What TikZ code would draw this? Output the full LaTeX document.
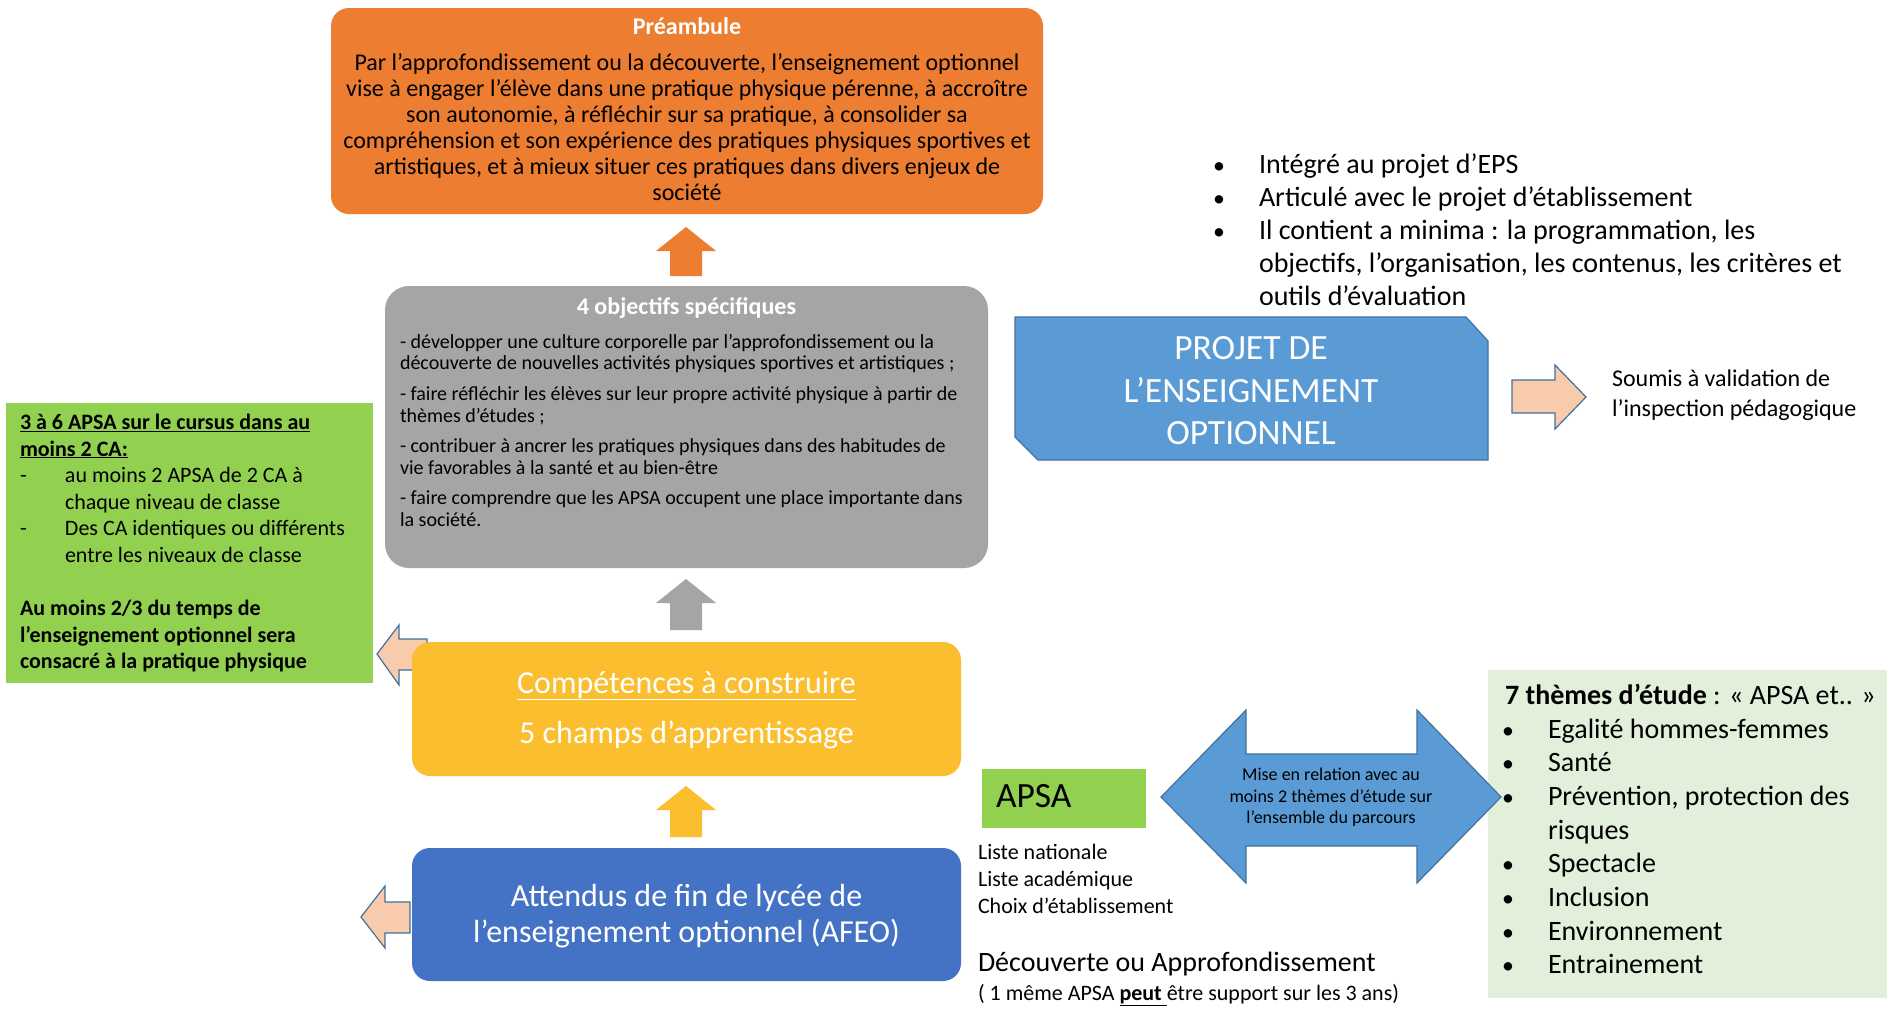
\documentclass[tikz,border=0pt]{standalone}
\usepackage{fontspec}
\setmainfont{Carlito}
\definecolor{orng}{HTML}{ED7D31}
\definecolor{gry}{HTML}{A5A5A5}
\definecolor{ylw}{HTML}{FBBE2E}
\definecolor{bluedk}{HTML}{4472C4}
\definecolor{bluelt}{HTML}{5B9BD5}
\definecolor{blueln}{HTML}{41719C}
\definecolor{grn}{HTML}{92D050}
\definecolor{grnlt}{HTML}{E2EFDA}
\definecolor{peach}{HTML}{F8CBAD}
\newcommand\fsz[2]{\fontsize{#1}{#2}\selectfont}
\newcommand\bul{\makebox[40pt][l]{\kern-6pt\scalebox{0.85}{•}}}
\begin{document}
\begin{tikzpicture}[x=1pt,y=-1pt,
  every node/.style={inner sep=0pt, outer sep=0pt},
  rbox/.style={rectangle, rounded corners=18pt, draw=none},
  sbox/.style={rectangle, draw=none},
  peacharrow/.style={fill=peach, draw=blueln, line width=1.2pt, line join=miter},
  bluearrow/.style={fill=bluelt, draw=blueln, line width=1.2pt}]
\useasboundingbox[fill=white] (0,0) rectangle (1900,1018);

% ---------- Préambule ----------
\node[rbox, fill=orng, minimum width=712, minimum height=206] (pre) at (687,111) {};
\node[anchor=north, font=\fsz{24}{26}\bfseries, text=white] (pretitle) at (687,17.5) {Préambule};
\node[anchor=north, align=center, font=\fsz{24}{26}] (pretext) at (687,53.5)
 {Par l’approfondissement ou la découverte, l’enseignement optionnel\\
  vise à engager l’élève dans une pratique physique pérenne, à accroître\\
  son autonomie, à réfléchir sur sa pratique, à consolider sa\\
  compréhension et son expérience des pratiques physiques sportives et\\
  artistiques, et à mieux situer ces pratiques dans divers enjeux de\\
  société};

% ---------- 4 objectifs ----------
\node[rbox, rounded corners=24pt, fill=gry, minimum width=603, minimum height=282] (obj) at (686.5,427) {};
\node[anchor=north, font=\fsz{24}{26}\bfseries, text=white] (objtitle) at (686.5,297.5) {4 objectifs spécifiques};
\node[anchor=north west, align=left, font=\fsz{20}{21.8}] (objtext) at (400,334)
 {- développer une culture corporelle par l’approfondissement ou la\\
  découverte de nouvelles activités physiques sportives et artistiques ;\\[8.5pt]
  - faire réfléchir les élèves sur leur propre activité physique à partir de\\
  thèmes d’études ;\\[8.5pt]
  - contribuer à ancrer les pratiques physiques dans des habitudes de\\
  vie favorables à la santé et au bien-être\\[8.5pt]
  - faire comprendre que les APSA occupent une place importante dans\\
  la société.};

% ---------- up arrows ----------
\fill[orng] (670,276) -- (670,251) -- (656,251) -- (686,227) -- (716,251) -- (702,251) -- (702,276) -- cycle;
\fill[gry]  (670,630) -- (670,603) -- (656,603) -- (686,579) -- (716,603) -- (702,603) -- (702,630) -- cycle;
\fill[ylw]  (670,837) -- (670,810) -- (656,810) -- (686,786) -- (716,810) -- (702,810) -- (702,837) -- cycle;

% ---------- left peach arrows ----------
\draw[peacharrow] (427,639) -- (399,639) -- (399,625) -- (377,654) -- (399,685) -- (399,670) -- (427,670) -- cycle;
\draw[peacharrow] (410,902) -- (385,902) -- (385,886) -- (361,917) -- (385,948) -- (385,933) -- (410,933) -- cycle;

% ---------- Compétences ----------
\node[rbox, fill=ylw, minimum width=549, minimum height=134] (comp) at (686.5,709) {};
\node[anchor=north, align=center, font=\fsz{32}{50}, text=white] (comptext) at (686.5,671)
 {\underline{Compétences à construire}\\ 5 champs d’apprentissage};

% ---------- AFEO ----------
\node[rbox, fill=bluedk, minimum width=549, minimum height=133] (afeo) at (686.5,914.5) {};
\node[anchor=north, align=center, font=\fsz{32}{36}, text=white] (afeotext) at (686.5,884)
 {Attendus de fin de lycée de\\ l’enseignement optionnel (AFEO)};

% ---------- green left ----------
\node[sbox, fill=grn, minimum width=367, minimum height=280, anchor=north west] (cursus) at (6,403) {};
\node[anchor=north west, align=left, font=\fsz{22}{26.6}] (cursustext) at (20,414)
 {\underline{\textbf{3 à 6 APSA sur le cursus dans au}}\\
  \underline{\textbf{moins 2 CA:}}\\
  \makebox[45pt][l]{-}au moins 2 APSA de 2 CA à\\
  \hspace*{45pt}chaque niveau de classe\\
  \makebox[45pt][l]{-}Des CA identiques ou différents\\
  \hspace*{45pt}entre les niveaux de classe\\[26.6pt]
  \textbf{Au moins 2/3 du temps de}\\
  \textbf{l’enseignement optionnel sera}\\
  \textbf{consacré à la pratique physique}};

% ---------- top right bullets ----------
\node[anchor=north west, align=left, font=\fsz{28}{33}] (projlist) at (1219,154)
 {\bul Intégré au projet d’EPS\\
  \bul Articulé avec le projet d’établissement\\
  \bul Il contient a minima : la programmation, les\\
  \hspace*{40pt}objectifs, l’organisation, les contenus, les critères et\\
  \hspace*{40pt}outils d’évaluation};

% ---------- PROJET ----------
\draw[fill=bluelt, draw=blueln, line width=1.2pt] (1015,317) -- (1466,317) -- (1488,341) -- (1488,460) -- (1038,460) -- (1015,437) -- cycle;
\node[anchor=north, align=center, font=\fsz{35.5}{42.5}, text=white] (proj) at (1251,336.5)
 {PROJET DE\\ L’ENSEIGNEMENT\\ OPTIONNEL};

% right peach arrow
\draw[peacharrow] (1512,380) -- (1555,380) -- (1555,365) -- (1586,397) -- (1555,429) -- (1555,413) -- (1512,413) -- cycle;
\node[anchor=north west, align=left, font=\fsz{24}{30}] (soumis) at (1612,370)
 {Soumis à validation de\\ l’inspection pédagogique};

% ---------- APSA ----------
\node[sbox, fill=grn, minimum width=164, minimum height=59, anchor=north west] (apsa) at (982,769) {};
\node[anchor=north west, font=\fsz{35.5}{40}] (apsatext) at (996,784) {APSA};
\node[anchor=north west, align=left, font=\fsz{22}{27}] (listes) at (978,844)
 {Liste nationale\\ Liste académique\\ Choix d’établissement};
\node[anchor=north west, font=\fsz{28}{30}] (decouv) at (978,952) {Découverte ou Approfondissement};
\node[anchor=north west, font=\fsz{22}{24}] (meme) at (978,984)
 {( 1 même APSA \underline{\textbf{peut }}être support sur les 3 ans)};

% ---------- light green themes ----------
\node[sbox, fill=grnlt, minimum width=399, minimum height=328, anchor=north west] (themes) at (1488,670) {};
\node[anchor=north west, align=left, font=\fsz{28}{33.7}] (themestext) at (1505,684)
 {\textbf{7 thèmes d’étude} : « APSA et.. »\\
  \hspace*{3pt}\bul Egalité hommes-femmes\\
  \hspace*{3pt}\bul Santé\\
  \hspace*{3pt}\bul Prévention, protection des\\
  \hspace*{43pt}risques\\
  \hspace*{3pt}\bul Spectacle\\
  \hspace*{3pt}\bul Inclusion\\
  \hspace*{3pt}\bul Environnement\\
  \hspace*{3pt}\bul Entrainement};

% ---------- double arrow ----------
\draw[bluearrow] (1161,797) -- (1246,710) -- (1246,754) -- (1417,754) -- (1417,710) -- (1501,797)
  -- (1417,883) -- (1417,846) -- (1246,846) -- (1246,883) -- cycle;
\node[anchor=north, align=center, font=\fsz{18}{21.5}] (relation) at (1331,768)
 {Mise en relation avec au\\ moins 2 thèmes d’étude sur\\ l’ensemble du parcours};
\end{tikzpicture}
\end{document}
